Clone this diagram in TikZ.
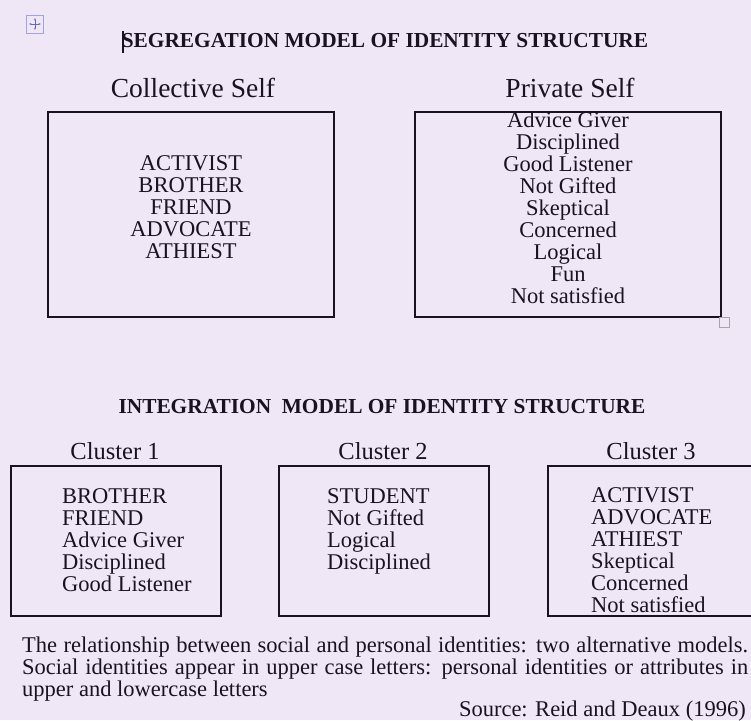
\documentclass[tikz,border=0pt]{standalone}
\usepackage{fontspec}
\setmainfont{Liberation Serif}
\usetikzlibrary{arrows.meta}
\definecolor{paper}{RGB}{240,231,246}
\definecolor{ink}{RGB}{26,18,34}
\definecolor{handleblue}{RGB}{100,100,200}
\tikzset{
  titletext/.style={font=\fontsize{21.35}{24}\selectfont\bfseries, text=ink, inner sep=0pt},
  headtext/.style={font=\fontsize{27.5}{30}\selectfont, text=ink, inner sep=0pt},
  clustertext/.style={font=\fontsize{24.5}{27}\selectfont, text=ink, inner sep=0pt},
  listtext/.style={font=\fontsize{22.5}{22}\selectfont, text=ink, inner sep=0pt},
  framebox/.style={draw=ink, line width=1.8pt, rectangle, inner sep=0pt, anchor=north west},
}
\begin{document}
\begin{tikzpicture}[x=1pt,y=-1pt]
\fill[paper] (0,0) rectangle (751,720);
\useasboundingbox (0,0) rectangle (751,720);

% table move handle
\node[draw=handleblue!60, line width=0.9pt, minimum width=17pt, minimum height=18pt, inner sep=0pt] (handle) at (35,24) {};
\coordinate (hl) at (29,24); \coordinate (hr) at (41,24);
\coordinate (ht) at (35,18); \coordinate (hb) at (35,30);
\draw[handleblue, line width=0.9pt, {Stealth[length=2.5pt]}-{Stealth[length=2.5pt]}] (hl) -- (hr);
\draw[handleblue, line width=0.9pt, {Stealth[length=2.5pt]}-{Stealth[length=2.5pt]}] (ht) -- (hb);

% segregation model
\node[titletext] (segtitle) at (385,41) {SEGREGATION MODEL OF IDENTITY STRUCTURE};
\coordinate (cursortop) at (123,31); \coordinate (cursorbot) at (123,53);
\draw[ink, line width=1.8pt] (cursortop) -- (cursorbot);

\node[headtext] (colhead) at (193,88) {Collective Self};
\node[headtext] (privhead) at (570,88) {Private Self};

\node[framebox, minimum width=286pt, minimum height=205pt] (colbox) at (47,111) {};
\node[framebox, minimum width=306pt, minimum height=205pt] (privbox) at (414,111) {};
\node[draw=gray!70, line width=0.9pt, minimum size=10pt, inner sep=0pt] (sizer) at (724,322) {};

\node[listtext, align=center] (collist) at (191,207) {ACTIVIST\\BROTHER\\FRIEND\\ADVOCATE\\ATHIEST};
\node[listtext, align=center] (privlist) at (568,208) {Advice Giver\\Disciplined\\Good Listener\\Not Gifted\\Skeptical\\Concerned\\Logical\\Fun\\Not satisfied};

% integration model
\node[titletext] (inttitle) at (382,407) {INTEGRATION\ \ MODEL OF IDENTITY STRUCTURE};

\node[clustertext] (c1head) at (115,451) {Cluster 1};
\node[clustertext] (c2head) at (383,451) {Cluster 2};
\node[clustertext] (c3head) at (651,451) {Cluster 3};

\node[framebox, minimum width=210pt, minimum height=150pt] (c1box) at (10,465) {};
\node[framebox, minimum width=210pt, minimum height=150pt] (c2box) at (278,465) {};
\node[framebox, minimum width=215pt, minimum height=150pt] (c3box) at (547,465) {};

\node[listtext, align=left, anchor=west] (c1list) at (62,540) {BROTHER\\FRIEND\\Advice Giver\\Disciplined\\Good Listener};
\node[listtext, align=left, anchor=north west] (c2list) at (327,488) {STUDENT\\Not Gifted\\Logical\\Disciplined};
\node[listtext, align=left, anchor=west] (c3list) at (591,550) {ACTIVIST\\ADVOCATE\\ATHIEST\\Skeptical\\Concerned\\Not satisfied};

% caption
\node[listtext, align=justify, text width=726pt, anchor=north west] (caption) at (22,637)
 {The relationship between social and personal identities: two alternative models.\linebreak
  Social identities appear in upper case letters: personal identities or attributes in\linebreak
  upper and lowercase letters};
\node[listtext, anchor=base east] (source) at (746,716) {Source: Reid and Deaux (1996)};
\end{tikzpicture}
\end{document}
